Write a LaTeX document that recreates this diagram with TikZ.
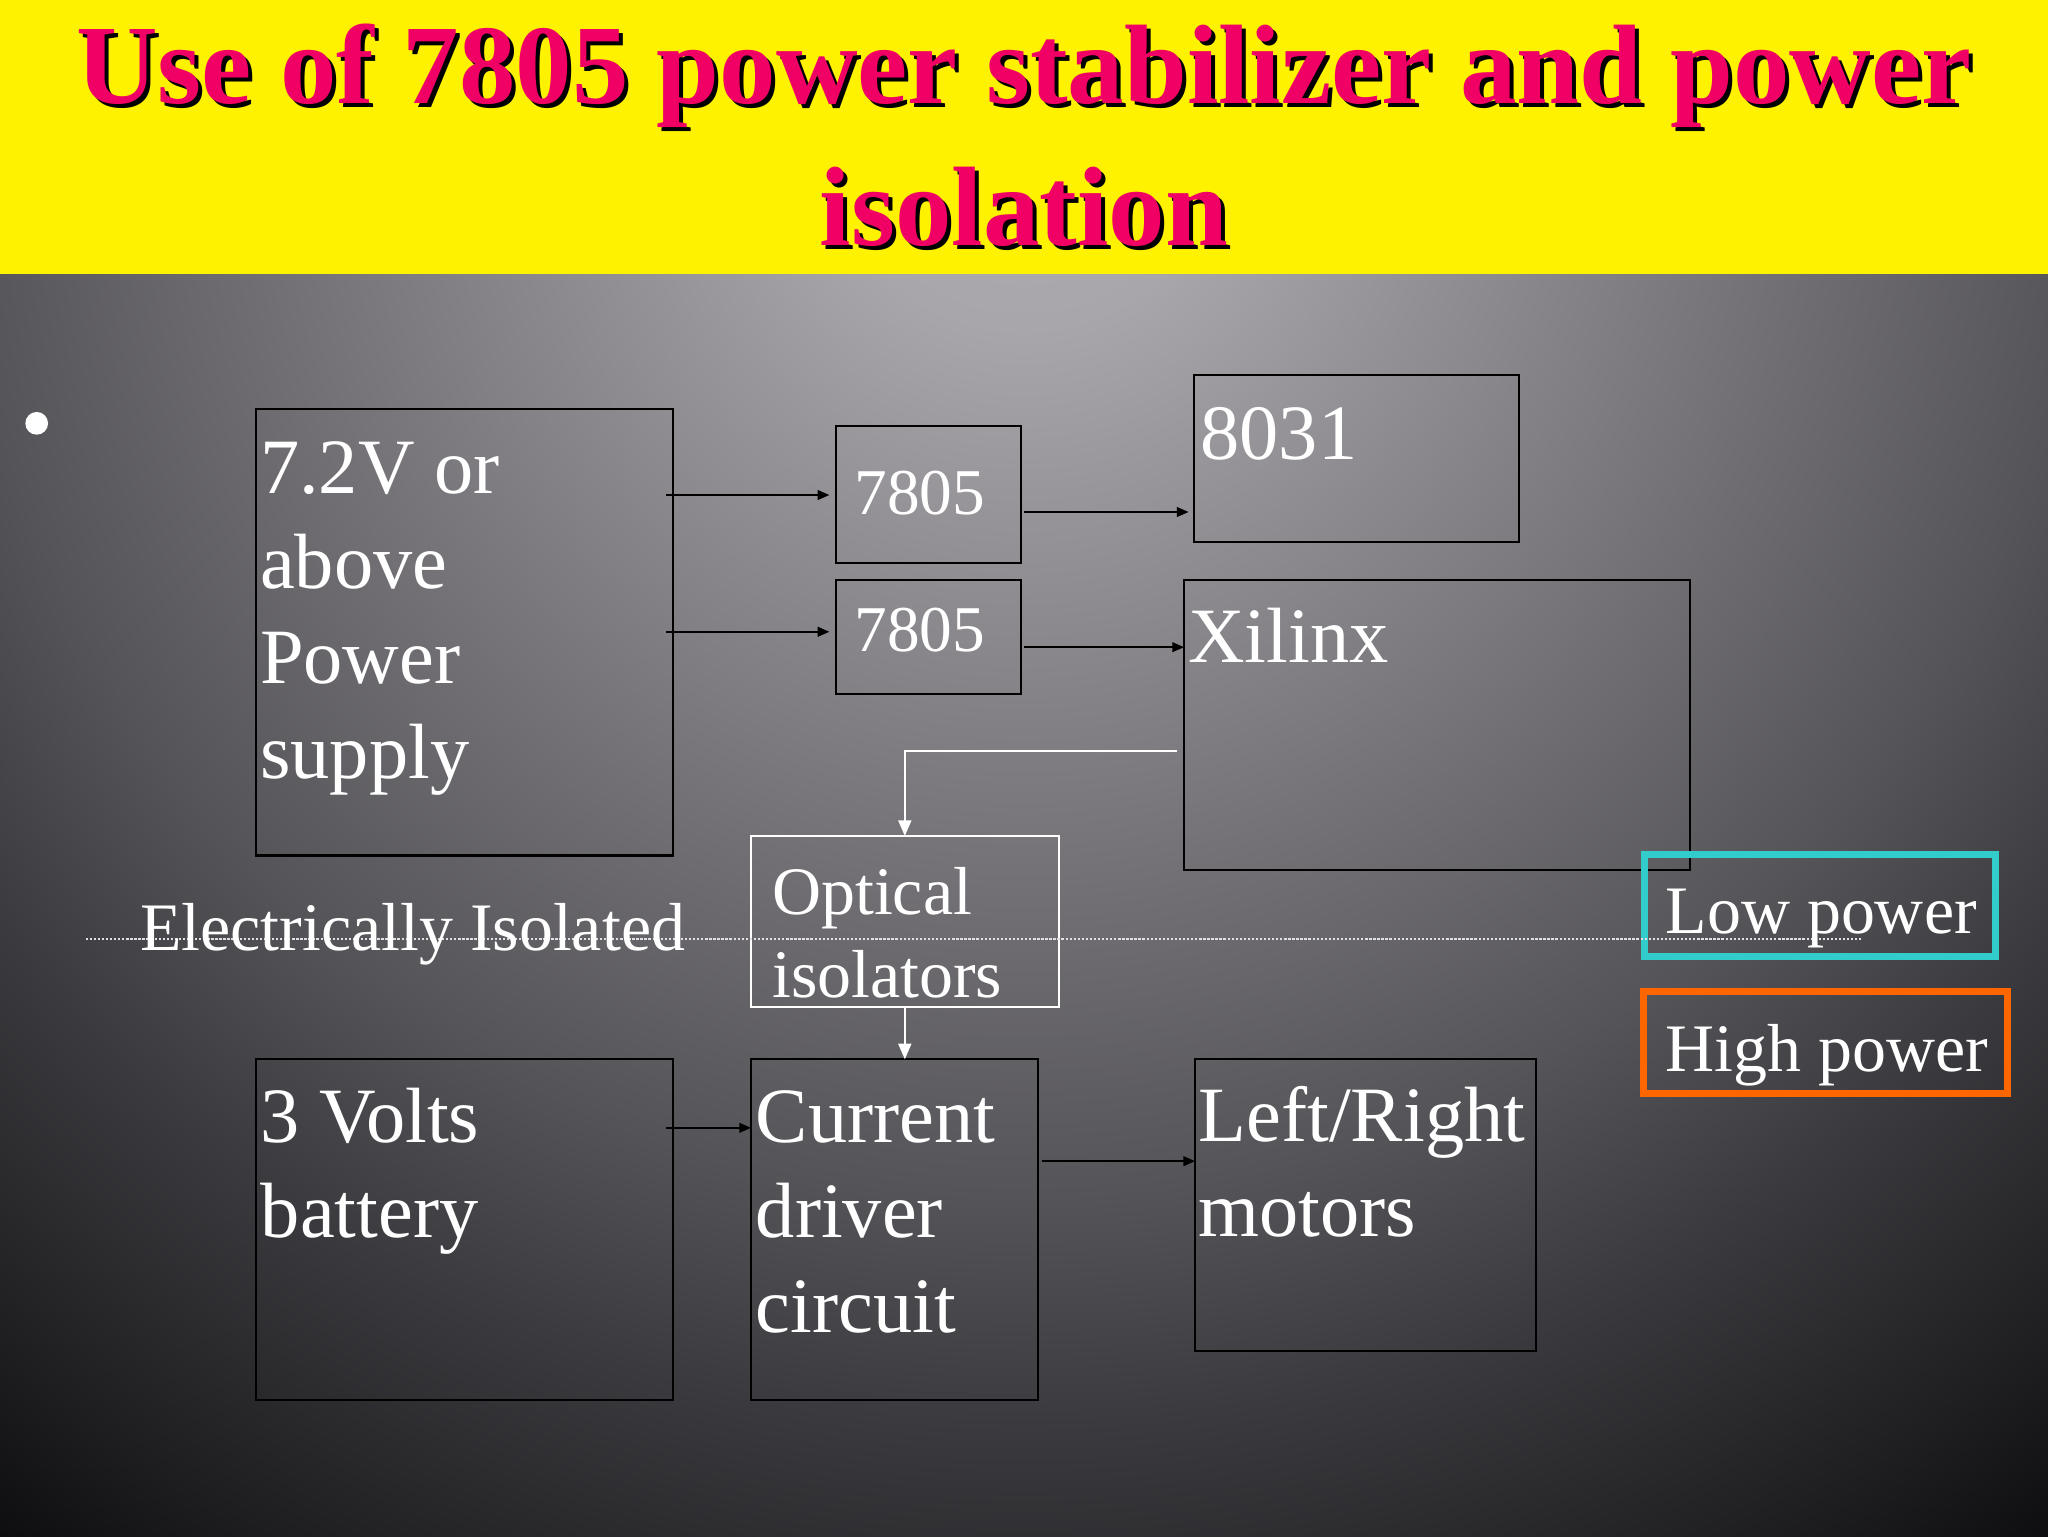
\documentclass[tikz,border=0pt]{standalone}
\usepackage{fontspec}
\setmainfont{Liberation Serif}
\usetikzlibrary{arrows.meta}
\definecolor{titlepink}{RGB}{240,0,100}
\definecolor{lowcyan}{RGB}{51,204,204}
\definecolor{highorange}{RGB}{255,102,0}
\definecolor{dotgray}{RGB}{225,225,228}
\pgfdeclareradialshading{bgshade}{\pgfpoint{0bp}{0bp}}{rgb(0bp)=(0.686,0.678,0.694); rgb(2.7bp)=(0.659,0.651,0.667); rgb(10.7bp)=(0.439,0.431,0.447); rgb(14.55bp)=(0.333,0.329,0.345); rgb(17.7bp)=(0.231,0.227,0.243); rgb(21.7bp)=(0.118,0.114,0.125); rgb(23.75bp)=(0.055,0.055,0.063); rgb(25bp)=(0.05,0.05,0.055); rgb(50bp)=(0.05,0.05,0.055)}
\newcommand\leftlines[2]{\vtop{\baselineskip=#1\lineskiplimit=-\maxdimen\lineskip=0pt\halign{##\hfil\cr#2\crcr}}}
\newcommand\centerlines[2]{\vtop{\baselineskip=#1\lineskiplimit=-\maxdimen\lineskip=0pt\halign{\hfil##\hfil\cr#2\crcr}}}
\begin{document}
\begin{tikzpicture}[x=1pt,y=-1pt,
  box/.style={draw=black, line width=1.6pt, inner sep=0pt, outer sep=0pt, anchor=north west},
  txt/.style={text=white, inner sep=0pt, anchor=base west, font=\fontsize{60}{72.7}\selectfont},
  smalltxt/.style={text=white, inner sep=0pt, anchor=base west, font=\fontsize{52}{64}\selectfont},
  titletxt/.style={anchor=base, inner sep=0pt, font=\fontsize{86.5}{109}\selectfont\bfseries},
  arr/.style={draw=black, line width=1.3pt, -{Triangle[length=9pt,width=7.5pt]}},
  warr/.style={draw=white, line width=1.4pt, -{Triangle[length=12pt,width=10pt]}}]
\useasboundingbox (0,0) rectangle (1568,1176);
% background
\fill[yellow] (0,0) rectangle (1568,210);
\begin{scope}
  \clip (0,210) rectangle (1568,1176);
  \shade[shading=bgshade] (-616,-1300) rectangle (2184,1500);
\end{scope}
% title
\node[titletxt, text=black] (titleshadow) at (787,82) {\centerlines{109pt}{Use of 7805 power stabilizer and power\cr isolation}};
\node[titletxt, text=titlepink] (title) at (784,79) {\centerlines{109pt}{Use of 7805 power stabilizer and power\cr isolation}};
% bullet
\node[circle, fill=white, inner sep=0pt, minimum size=17.4pt] (bullet) at (28.1,324.1) {};
% boxes
\node[box, minimum width=319pt, minimum height=342pt] (ps) at (196,313) {};
\node[box, minimum width=142pt, minimum height=105pt] (t1) at (640,326) {};
\node[box, minimum width=142pt, minimum height=87pt] (t2) at (640,444) {};
\node[box, minimum width=249pt, minimum height=128pt] (mc) at (914,287) {};
\node[box, minimum width=387.5pt, minimum height=222pt] (xl) at (906.5,444) {};
\node[box, draw=white, line width=1.5pt, minimum width=235.5pt, minimum height=131pt] (opt) at (575,640) {};
\node[box, minimum width=319pt, minimum height=261pt] (bat) at (196,811) {};
\node[box, minimum width=220pt, minimum height=261pt] (cd) at (575,811) {};
\node[box, minimum width=261pt, minimum height=223pt] (mot) at (915,811) {};
\node[box, draw=lowcyan, line width=5.5pt, minimum width=269pt, minimum height=78pt] (low) at (1259,654) {};
\node[box, draw=highorange, line width=5.5pt, minimum width=278.5pt, minimum height=78pt] (high) at (1258.5,759) {};
% dotted isolation line
\coordinate (d1) at (65.6,719);
\coordinate (d2) at (1424.6,719);
\draw[dotgray, line width=1.2pt, dash pattern=on 1.8pt off 1.3pt] (d1) -- (d2);
% texts
\node[txt] (pstext) at (199,378) {\leftlines{72.7pt}{7.2V or\cr above\cr Power\cr supply}};
\node[smalltxt, font=\fontsize{50}{60}\selectfont] (t1text) at (654,394) {7805};
\node[smalltxt, font=\fontsize{50}{60}\selectfont] (t2text) at (654,499) {7805};
\node[txt] (mctext) at (919,351.5) {8031};
\node[txt] (xltext) at (909.6,507.4) {Xilinx};
\node[smalltxt] (opttext) at (591,700) {\leftlines{64pt}{Optical\cr isolators}};
\node[smalltxt] (isotext) at (107,727.5) {Electrically Isolated};
\node[txt] (battext) at (199.5,874.5) {\leftlines{72.7pt}{3 Volts\cr battery}};
\node[txt] (cdtext) at (578.5,874.5) {\leftlines{73pt}{Current\cr driver\cr circuit}};
\node[txt] (mottext) at (917.5,874) {\leftlines{73pt}{Left/Right\cr motors}};
\node[smalltxt] (lowtext) at (1275,715) {Low power};
\node[smalltxt] (hightext) at (1275,820) {High power};
% connectors
\coordinate (a1) at (510,379);
\coordinate (a2) at (510,483.7);
\coordinate (a3) at (784,392);
\coordinate (a4) at (784,495.5);
\coordinate (a5) at (901,575);
\coordinate (a7) at (510,863.5);
\coordinate (a8) at (797.6,889);
\draw[arr, shorten >=5pt] (a1) -- (a1 -| t1.west);
\draw[arr, shorten >=5pt] (a2) -- (a2 -| t2.west);
\draw[arr, shorten >=4pt] (a3) -- (a3 -| mc.west);
\draw[arr] (a4) -- (a4 -| xl.west);
\draw[warr] (a5) -- (a5 -| opt.north) -- (opt.north);
\draw[warr] (opt.south) -- (opt.south |- cd.north);
\draw[arr] (a7) -- (a7 -| cd.west);
\draw[arr] (a8) -- (a8 -| mot.west);
\end{tikzpicture}
\end{document}
